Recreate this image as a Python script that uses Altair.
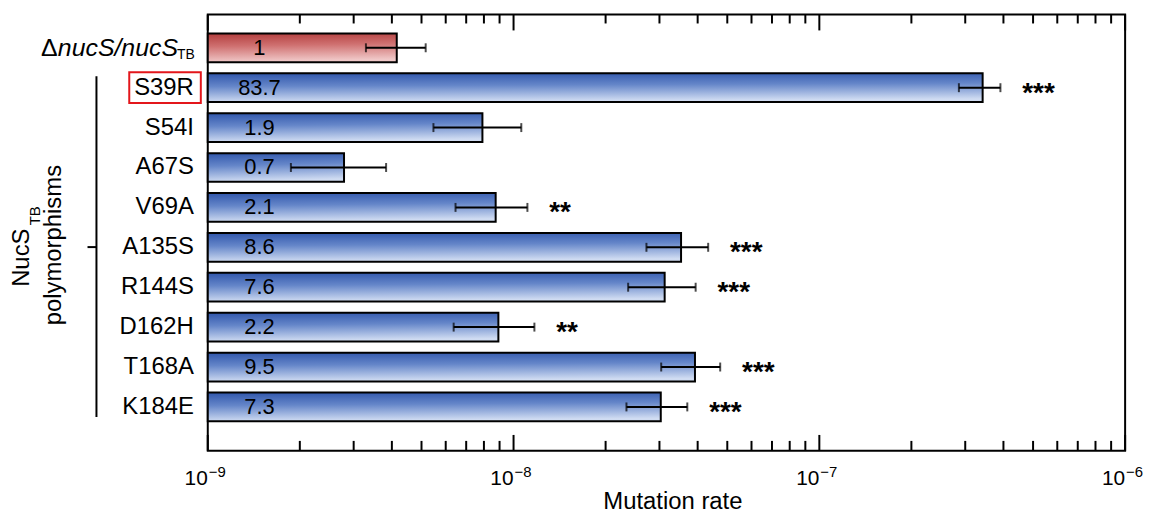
import altair as alt
import pandas as pd

FONT = "Liberation Sans"
W, H = 923, 439

# ---- data ----
keys = ["ref", "S39R", "S54I", "A67S", "V69A", "A135S", "R144S", "D162H", "T168A", "K184E"]
row_labels = ["", "S39R", "S54I", "A67S", "V69A", "A135S", "R144S", "D162H", "T168A", "K184E"]
groups = ["ref", "poly", "poly", "poly", "poly", "poly", "poly", "poly", "poly", "poly"]
rates = [4.15e-9, 3.42e-7, 7.91e-9, 2.79e-9, 8.74e-9, 3.53e-8, 3.12e-8, 8.92e-9, 3.92e-8, 3.03e-8]
err_lo = [3.29e-9, 2.86e-7, 5.47e-9, 1.87e-9, 6.46e-9, 2.72e-8, 2.37e-8, 6.37e-9, 3.04e-8, 2.34e-8]
err_hi = [5.16e-9, 3.91e-7, 1.06e-8, 3.83e-9, 1.11e-8, 4.33e-8, 3.94e-8, 1.17e-8, 4.74e-8, 3.70e-8]
folds = ["1", "83.7", "1.9", "0.7", "2.1", "8.6", "7.6", "2.2", "9.5", "7.3"]
stars = ["", "***", "", "", "**", "***", "***", "**", "***", "***"]

ref_label_parts = ["\u0394", "nucS/nucS", "TB"]
group_label_parts = ["NucS", "TB", "polymorphisms"]
x_title = ["Mutation rate"]

x_min, x_max = 1e-9, 1e-6
major_ticks = [1e-9, 1e-8, 1e-7, 1e-6]
major_exps = ["\u22129", "\u22128", "\u22127", "\u22126"]
minor_ticks = [2e-9, 3e-9, 4e-9, 5e-9, 6e-9, 7e-9, 8e-9, 9e-9,
               2e-8, 3e-8, 4e-8, 5e-8, 6e-8, 7e-8, 8e-8, 9e-8,
               2e-7, 3e-7, 4e-7, 5e-7, 6e-7, 7e-7, 8e-7, 9e-7]

df = pd.DataFrame(dict(key=keys, label=row_labels, grp=groups, rate=rates,
                       lo=err_lo, hi=err_hi, fold=folds, stars=stars))
major_df = pd.DataFrame(dict(t=major_ticks, exp=major_exps))
minor_df = pd.DataFrame(dict(t=minor_ticks))
one = pd.DataFrame(dict(a=[0]))
title_df = pd.DataFrame(dict(title=x_title))

xscale = alt.Scale(type="log", domain=[x_min, x_max], nice=False)
yenc = alt.Y("key:N", sort=keys,
             scale=alt.Scale(paddingInner=0.28, paddingOuter=0.607, align=0.39),
             axis=None)

blue = alt.Gradient(gradient="linear", x1=0, y1=0, x2=0.12, y2=1, stops=[
    alt.GradientStop(color="#3056ab", offset=0),
    alt.GradientStop(color="#6586c9", offset=0.45),
    alt.GradientStop(color="#d0dcf2", offset=1)])
red = alt.Gradient(gradient="linear", x1=0, y1=0, x2=0.12, y2=1, stops=[
    alt.GradientStop(color="#b23c3c", offset=0),
    alt.GradientStop(color="#cf7070", offset=0.45),
    alt.GradientStop(color="#f0c8c8", offset=1)])

base = alt.Chart(df)
poly = base.transform_filter("datum.grp == 'poly'")
ref = base.transform_filter("datum.grp == 'ref'")

bars_blue = poly.mark_bar(fill=blue, stroke="black", strokeWidth=2).encode(
    x=alt.X("rate:Q", scale=xscale, axis=None), x2=alt.datum(x_min), y=yenc)
bars_red = ref.mark_bar(fill=red, stroke="black", strokeWidth=2).encode(
    x=alt.X("rate:Q", scale=xscale, axis=None), x2=alt.datum(x_min), y=yenc)

err = base.mark_rule(color="black", strokeWidth=2).encode(
    x=alt.X("lo:Q", scale=xscale, axis=None), x2="hi:Q", y=yenc)
cap_lo = base.mark_tick(color="black", thickness=2, size=9).encode(
    x=alt.X("lo:Q", scale=xscale, axis=None), y=yenc)
cap_hi = base.mark_tick(color="black", thickness=2, size=9).encode(
    x=alt.X("hi:Q", scale=xscale, axis=None), y=yenc)

vals = base.mark_text(font=FONT, fontSize=22, align="center", baseline="middle",
                      color="black").encode(x=alt.value(52), y=yenc, text="fold:N")

star_txt = base.transform_filter("datum.stars != ''").mark_text(
    font=FONT, fontSize=28, fontWeight="bold", align="left",
    baseline="alphabetic", dx=22, dy=14, color="black").encode(
    x=alt.X("hi:Q", scale=xscale, axis=None), y=yenc, text="stars:N")

row_txt = poly.mark_text(font=FONT, fontSize=24, align="right", baseline="middle",
                         color="black").encode(x=alt.value(-14), y=yenc, text="label:N")

ref_a = ref.mark_text(text=ref_label_parts[0], font=FONT, fontSize=25, align="right",
                      baseline="middle", color="black").encode(x=alt.value(-151), y=yenc)
ref_b = ref.mark_text(text=ref_label_parts[1], font=FONT, fontSize=25, fontStyle="italic",
                      align="right", baseline="middle", color="black").encode(
    x=alt.value(-30), y=yenc)
ref_c = ref.mark_text(text=ref_label_parts[2], font=FONT, fontSize=14, align="right",
                      baseline="middle", dy=7, color="black").encode(x=alt.value(-13), y=yenc)

box = base.transform_filter("datum.key == 'S39R'").mark_bar(
    filled=False, stroke="#e3161b", strokeWidth=2, size=31).encode(
    x=alt.value(-79), x2=alt.value(-7), y=yenc)

ann = alt.Chart(one)
bracket = ann.mark_rule(color="black", strokeWidth=2).encode(
    x=alt.value(-112), y=alt.value(62), y2=alt.value(405))
bracket_tick = ann.mark_rule(color="black", strokeWidth=2).encode(
    x=alt.value(-121), x2=alt.value(-112), y=alt.value(234))
g1 = ann.mark_text(text=group_label_parts[0], font=FONT, fontSize=24, angle=270,
                   align="left", baseline="middle", color="black").encode(
    x=alt.value(-187), y=alt.value(274))
g2 = ann.mark_text(text=group_label_parts[1], font=FONT, fontSize=15, angle=270,
                   align="left", baseline="middle", color="black").encode(
    x=alt.value(-174), y=alt.value(212))
g3 = ann.mark_text(text=group_label_parts[2], font=FONT, fontSize=24, angle=270,
                   align="center", baseline="middle", color="black").encode(
    x=alt.value(-155), y=alt.value(232))

# inward axis ticks (bottom and top)
maj = alt.Chart(major_df)
mnr = alt.Chart(minor_df)
tick_maj_b = maj.mark_rule(color="black", strokeWidth=2).encode(
    x=alt.X("t:Q", scale=xscale, axis=None), y=alt.value(H), y2=alt.value(H - 16))
tick_maj_t = maj.mark_rule(color="black", strokeWidth=2).encode(
    x=alt.X("t:Q", scale=xscale, axis=None), y=alt.value(0), y2=alt.value(16))
tick_min_b = mnr.mark_rule(color="black", strokeWidth=2).encode(
    x=alt.X("t:Q", scale=xscale, axis=None), y=alt.value(H), y2=alt.value(H - 10))
tick_min_t = mnr.mark_rule(color="black", strokeWidth=2).encode(
    x=alt.X("t:Q", scale=xscale, axis=None), y=alt.value(0), y2=alt.value(9))

lab10 = maj.mark_text(text="10", font=FONT, fontSize=21, align="right",
                      baseline="alphabetic", color="black").encode(
    x=alt.X("t:Q", scale=xscale, axis=None), y=alt.value(473))
labexp = maj.mark_text(font=FONT, fontSize=15, align="left", baseline="alphabetic",
                       dx=1, color="black").encode(
    x=alt.X("t:Q", scale=xscale, axis=None), y=alt.value(465), text="exp:N")

title_txt = alt.Chart(title_df).mark_text(
    font=FONT, fontSize=24, align="center", baseline="alphabetic", color="black").encode(
    x=alt.value(468), y=alt.value(498), text="title:N")

chart = alt.layer(
    bars_blue, bars_red, err, cap_lo, cap_hi, vals, star_txt, row_txt,
    ref_a, ref_b, ref_c, box, bracket, bracket_tick, g1, g2, g3,
    tick_maj_b, tick_maj_t, tick_min_b, tick_min_t, lab10, labexp, title_txt
).properties(
    width=W, height=H,
    padding={"left": 201, "top": 5, "right": 20, "bottom": 65},
    autosize=alt.AutoSizeParams(type="none"),
).configure_view(stroke="black", strokeWidth=2)

chart.save("out.html", embed_options={"renderer": "svg", "actions": False})
